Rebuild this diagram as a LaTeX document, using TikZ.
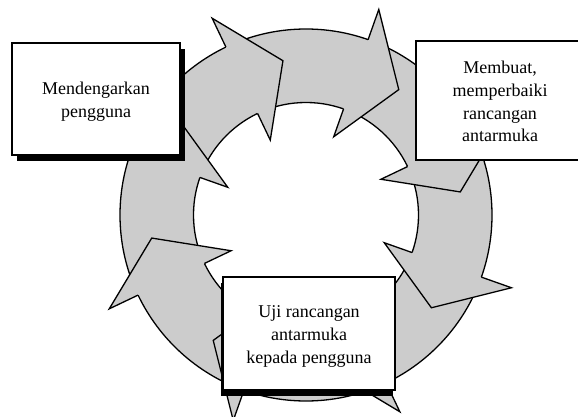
\documentclass[tikz,border=0pt]{standalone}
\usepackage{fontspec}
\setmainfont{Liberation Serif}
\newfontfamily\boxserif{Liberation Serif}
\usetikzlibrary{calc,shadows}
\begin{document}
\begin{tikzpicture}[x=1pt,y=1pt,
  ringstyle/.style={fill=black!20, draw=black, line width=1.3pt},
  headfill/.style={fill=black!20},
  headline/.style={draw=black, line width=1.3pt, line join=miter},
  box/.style={draw=black, line width=1.5pt, fill=white, inner sep=0pt},
  boxtext/.style={align=center, inner sep=0pt,
    font=\boxserif\fontsize{18}{22.8}\selectfont},
  ]
\useasboundingbox (0,0) rectangle (578,416);
\clip (0,0) rectangle (578,416);
\coordinate (c) at (306,201);
\draw[ringstyle, even odd rule] (c) circle[radius=186pt] (c) circle[radius=112.5pt];
\foreach \t in {19.5,64.5,...,334.5} {
  \pgfmathsetmacro\p{90-\t}
  \pgfmathsetmacro\q{90-\t-17}
  \coordinate (on) at ($(c)+(\p:186pt)$);
  \coordinate (ob) at ($(c)+(\p:218pt)$);
  \coordinate (tp) at ($(c)+(\q:156pt)$);
  \coordinate (ib) at ($(c)+(\p:83pt)$);
  \coordinate (in) at ($(c)+(\p:112.5pt)$);
  \fill[headfill] (ob) -- (tp) -- (ib) -- cycle;
  \draw[headline] (on) -- (ob) -- (tp) -- (ib) -- (in);
}
\node[box, minimum width=168pt, minimum height=112pt,
  general shadow={fill=black, shadow xshift=5pt, shadow yshift=-6pt}]
  (listen) at (96,317) {};
\node[boxtext] (listentext) at ([yshift=-3pt]listen.center) {Mendengarkan\\pengguna};
\node[box, minimum width=168pt, minimum height=119pt]
  (make) at (500,315.5) {};
\node[boxtext] (maketext) at ([yshift=-1pt]make.center) {Membuat,\\memperbaiki\\rancangan\\antarmuka};
\node[box, minimum width=172pt, minimum height=113pt,
  general shadow={fill=black, shadow xshift=-2pt, shadow yshift=-6pt}]
  (test) at (309,82.5) {};
\node[boxtext] (testtext) at ([yshift=-3pt]test.center) {Uji rancangan\\antarmuka\\kepada pengguna};
\end{tikzpicture}
\end{document}
